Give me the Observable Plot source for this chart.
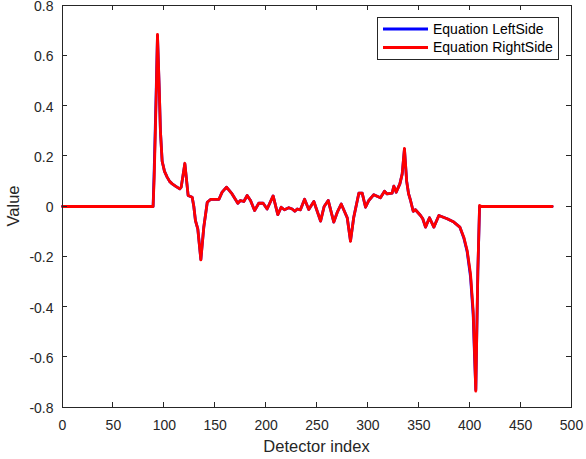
<!DOCTYPE html>
<html>
<head>
<meta charset="utf-8">
<script src="https://cdn.jsdelivr.net/npm/d3@7"></script>
<script src="https://cdn.jsdelivr.net/npm/@observablehq/plot@0.6"></script>
<style>
  html, body { margin: 0; padding: 0; background: #fff; }
  #chart svg { overflow: visible; display: block; }
</style>
</head>
<body>
<div id="chart"></div>
<script>
// ---- data ----
const detX = [0, 89.0, 90.1, 91.1, 92.1, 93.3, 95.0, 96.2, 97.9, 100.2, 102.8, 105.2, 107.8, 111.3, 115.2, 116.6, 120.2, 123.4, 127.4, 129.0, 130.6, 132.9, 135.9, 138.8, 142.2, 145.4, 153.6, 156.8, 161.1, 166.6, 172.2, 174.8, 178.1, 181.4, 184.7, 188.7, 192.8, 197.1, 201.0, 206.9, 211.5, 214.8, 218.0, 222.3, 225.6, 228.2, 230.6, 233.7, 237.8, 241.9, 246.9, 253.5, 257.0, 261.0, 266.5, 270.2, 273.8, 279.7, 282.9, 286.1, 291.1, 294.4, 297.7, 300.9, 305.8, 312.3, 316.3, 318.9, 323.8, 325.5, 327.8, 331.4, 333.7, 335.9, 338.1, 340.0, 341.9, 344.5, 346.7, 351.7, 353.9, 356.6, 360.5, 364.8, 369.7, 377.9, 384.4, 390.3, 394.2, 397.5, 400.8, 403.4, 404.7, 406.0, 408.0, 409.7, 411.5, 481];
const rightSide = [0, 0, 0.12, 0.28, 0.45, 0.685, 0.475, 0.30, 0.18, 0.14, 0.117, 0.10, 0.09, 0.08, 0.07, 0.077, 0.172, 0.044, 0.037, 0.0, -0.056, -0.089, -0.212, -0.082, 0.017, 0.028, 0.028, 0.057, 0.077, 0.05, 0.013, 0.024, 0.02, 0.044, 0.024, -0.016, 0.013, 0.013, -0.01, 0.042, -0.032, -0.003, -0.013, -0.005, -0.01, -0.019, -0.01, -0.013, 0.029, -0.012, 0.02, -0.058, 0.0, 0.024, -0.062, -0.02, 0.01, -0.045, -0.139, -0.043, 0.053, 0.053, -0.003, 0.024, 0.047, 0.035, 0.061, 0.05, 0.053, 0.081, 0.057, 0.09, 0.13, 0.231, 0.1, 0.05, 0.024, -0.019, -0.013, -0.036, -0.049, -0.082, -0.045, -0.082, -0.036, -0.049, -0.062, -0.082, -0.122, -0.175, -0.268, -0.414, -0.573, -0.735, -0.255, 0.004, 0, 0];
const leftSide  = [0, 0, 0.15, 0.31, 0.47, 0.68, 0.47, 0.30, 0.18, 0.14, 0.117, 0.10, 0.09, 0.08, 0.07, 0.077, 0.170, 0.044, 0.037, 0.0, -0.056, -0.089, -0.210, -0.082, 0.017, 0.028, 0.028, 0.057, 0.077, 0.05, 0.013, 0.024, 0.02, 0.044, 0.024, -0.016, 0.013, 0.013, -0.01, 0.042, -0.032, -0.003, -0.013, -0.005, -0.01, -0.019, -0.01, -0.013, 0.029, -0.012, 0.02, -0.058, 0.0, 0.024, -0.062, -0.02, 0.01, -0.045, -0.137, -0.043, 0.053, 0.053, -0.003, 0.024, 0.047, 0.035, 0.061, 0.05, 0.053, 0.081, 0.057, 0.09, 0.13, 0.228, 0.1, 0.05, 0.024, -0.019, -0.013, -0.036, -0.049, -0.082, -0.045, -0.082, -0.036, -0.049, -0.062, -0.082, -0.125, -0.18, -0.28, -0.43, -0.59, -0.73, -0.26, 0.0, 0, 0];
const seriesNames = ["Equation LeftSide", "Equation RightSide"];
const seriesColors = ["#0000ff", "#ff0000"];
const xTicks = [0, 50, 100, 150, 200, 250, 300, 350, 400, 450, 500];
const yTicks = [-0.8, -0.6, -0.4, -0.2, 0, 0.2, 0.4, 0.6, 0.8];
const yTickLabels = ["-0.8", "-0.6", "-0.4", "-0.2", "0", "0.2", "0.4", "0.6", "0.8"];
const xLabel = "Detector index";
const yLabel = "Value";

const leftData = detX.map((x, i) => ({x, y: leftSide[i]}));
const rightData = detX.map((x, i) => ({x, y: rightSide[i]}));

const axisColor = "#262626";
const font = "Arial, 'Liberation Sans', sans-serif";

const plot = Plot.plot({
  width: 586,
  height: 459,
  marginLeft: 62,
  marginRight: 15,
  marginTop: 5,
  marginBottom: 52,
  style: {fontFamily: font, fontSize: "14px", color: axisColor, background: "#fff", overflow: "visible"},
  x: {domain: [0, 500], label: null},
  y: {domain: [-0.8, 0.8], label: null},
  marks: [
    Plot.line(leftData, {x: "x", y: "y", stroke: seriesColors[0], strokeWidth: 2.8, curve: "linear"}),
    Plot.line(rightData, {x: "x", y: "y", stroke: seriesColors[1], strokeWidth: 2.8, curve: "linear"}),
    Plot.frame({stroke: axisColor, strokeWidth: 1}),
    Plot.axisX({ticks: xTicks, tickSize: 0, tickPadding: 13, label: null, fontSize: 14, tickFormat: d => String(d)}),
    Plot.axisY({ticks: yTicks, tickSize: 0, tickPadding: 9, dy: 1.2, label: null, fontSize: 14, tickFormat: d => yTickLabels[yTicks.indexOf(d)]})
  ]
});

document.getElementById("chart").appendChild(plot);

// inward ticks on all four sides, using the plot's own scales
const sx = plot.scale("x"), sy = plot.scale("y");
const svg = d3.select(plot);
const [x0, x1] = sx.range, [y0, y1] = sy.range; // y0 bottom, y1 top
const tl = 5;
const g = svg.append("g").attr("stroke", axisColor).attr("stroke-width", 1).attr("shape-rendering", "crispEdges");
xTicks.forEach(t => {
  const px = sx.apply(t);
  g.append("line").attr("x1", px).attr("x2", px).attr("y1", y0).attr("y2", y0 - tl);
  g.append("line").attr("x1", px).attr("x2", px).attr("y1", y1).attr("y2", y1 + tl);
});
yTicks.forEach(t => {
  const py = sy.apply(t);
  g.append("line").attr("y1", py).attr("y2", py).attr("x1", x0).attr("x2", x0 + tl);
  g.append("line").attr("y1", py).attr("y2", py).attr("x1", x1).attr("x2", x1 - tl);
});

// axis labels
svg.append("text").text(xLabel)
  .attr("x", (x0 + x1) / 2).attr("y", 451.5)
  .attr("text-anchor", "middle").attr("font-family", font).attr("font-size", 16.5).attr("fill", axisColor);
svg.append("text").text(yLabel)
  .attr("transform", `translate(18.5,${(y0 + y1) / 2}) rotate(-90)`)
  .attr("text-anchor", "middle").attr("font-family", font).attr("font-size", 16.5).attr("fill", axisColor);

// legend
const lg = svg.append("g").attr("text-anchor", "start");
lg.append("rect").attr("x", 377.5).attr("y", 17.5).attr("width", 181).attr("height", 42)
  .attr("fill", "#fff").attr("stroke", axisColor).attr("stroke-width", 1);
seriesNames.forEach((name, i) => {
  const yy = 29 + i * 18.5;
  lg.append("line").attr("x1", 383).attr("x2", 428).attr("y1", yy).attr("y2", yy)
    .attr("stroke", seriesColors[i]).attr("stroke-width", 2.8);
  lg.append("text").text(name).attr("x", 433).attr("y", yy).attr("dy", "0.35em")
    .attr("text-anchor", "start")
    .attr("font-family", font).attr("font-size", 14).attr("fill", "#000");
});
</script>
</body>
</html>
